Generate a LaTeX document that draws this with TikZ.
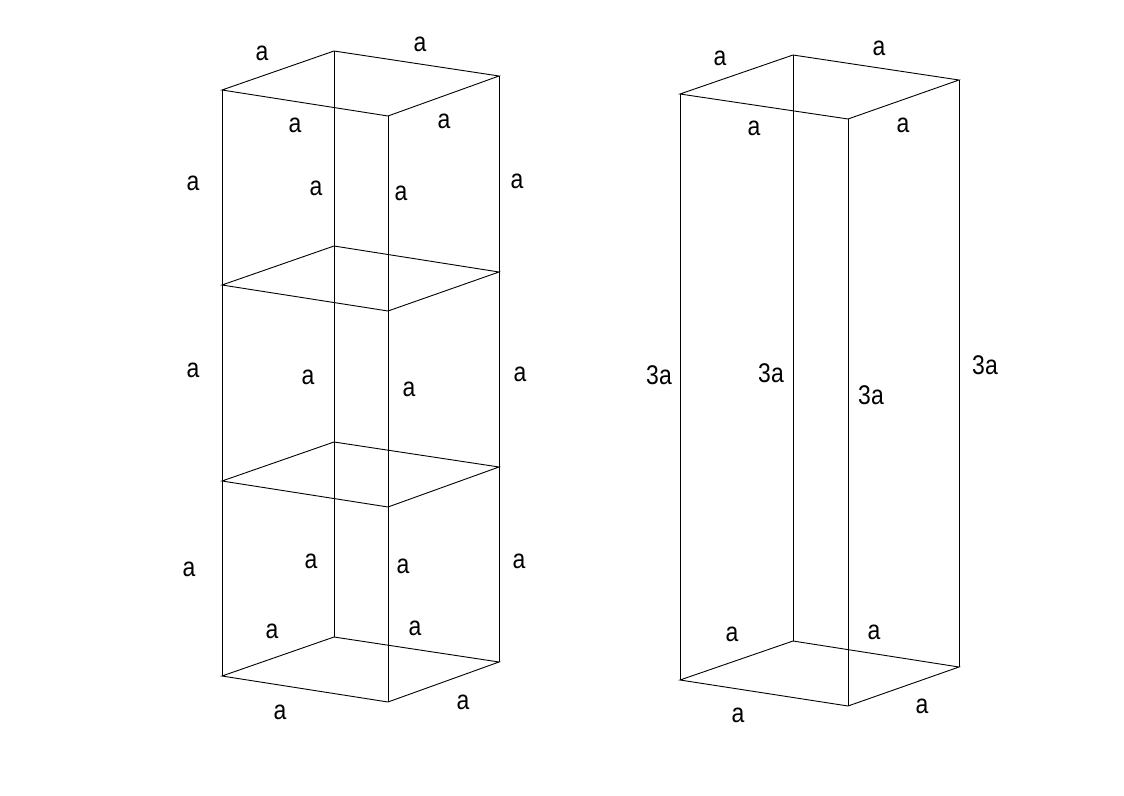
\documentclass[tikz,border=0pt]{standalone}
\usepackage{fontspec}
\setmainfont{Liberation Sans}
\begin{document}
\begin{tikzpicture}[x=1pt,y=-1pt,edge/.style={draw=black,line width=0.9pt},lab/.style={font=\fontsize{27}{27}\selectfont,inner sep=0pt,xscale=0.85}]
\useasboundingbox (0,0) rectangle (1124,795);
% left prism levels
\foreach \i/\yl/\yb/\yr/\yf in {0/90/51/76/116,1/285/246/272/311,2/481/442/467/507,3/676/637/662/702}{
  \coordinate (L\i) at (222,\yl); \coordinate (B\i) at (334,\yb);
  \coordinate (R\i) at (499,\yr); \coordinate (F\i) at (388,\yf);
  \draw[edge] (L\i) -- (B\i) -- (R\i) -- (F\i) -- cycle;
}
\draw[edge] (L0) -- (L3); \draw[edge] (B0) -- (B3); \draw[edge] (R0) -- (R3); \draw[edge] (F0) -- (F3);
% right prism
\coordinate (pL0) at (680,94); \coordinate (pB0) at (793,55); \coordinate (pR0) at (959,80); \coordinate (pF0) at (848,119);
\coordinate (pL1) at (680,680); \coordinate (pB1) at (793,641); \coordinate (pR1) at (959,667); \coordinate (pF1) at (848,706);
\draw[edge] (pL0) -- (pB0) -- (pR0) -- (pF0) -- cycle;
\draw[edge] (pL1) -- (pB1) -- (pR1) -- (pF1) -- cycle;
\draw[edge] (pL0) -- (pL1); \draw[edge] (pB0) -- (pB1); \draw[edge] (pR0) -- (pR1); \draw[edge] (pF0) -- (pF1);
% labels
\foreach \n/\x/\y in {1/262/53,2/420/44,3/295/125,4/444/121,5/193/183,6/316/188,7/401/193,8/517/181,9/193/370,10/308/377,11/409/389,12/520/374,13/189/569,14/311/561,15/403/566,16/519/561,17/272/631,18/415/628,19/280/712,20/463/702,21/720/58,22/879/48,23/754/128,24/903/125,25/732/634,26/874/632,27/738/715,28/922/706}
  \node[lab] (t\n) at (\x,\y) {a};
\foreach \n/\x/\y in {1/659/375,2/771/373,3/871/395,4/985/365}
  \node[lab] (h\n) at (\x,\y) {3a};
\end{tikzpicture}
\end{document}
